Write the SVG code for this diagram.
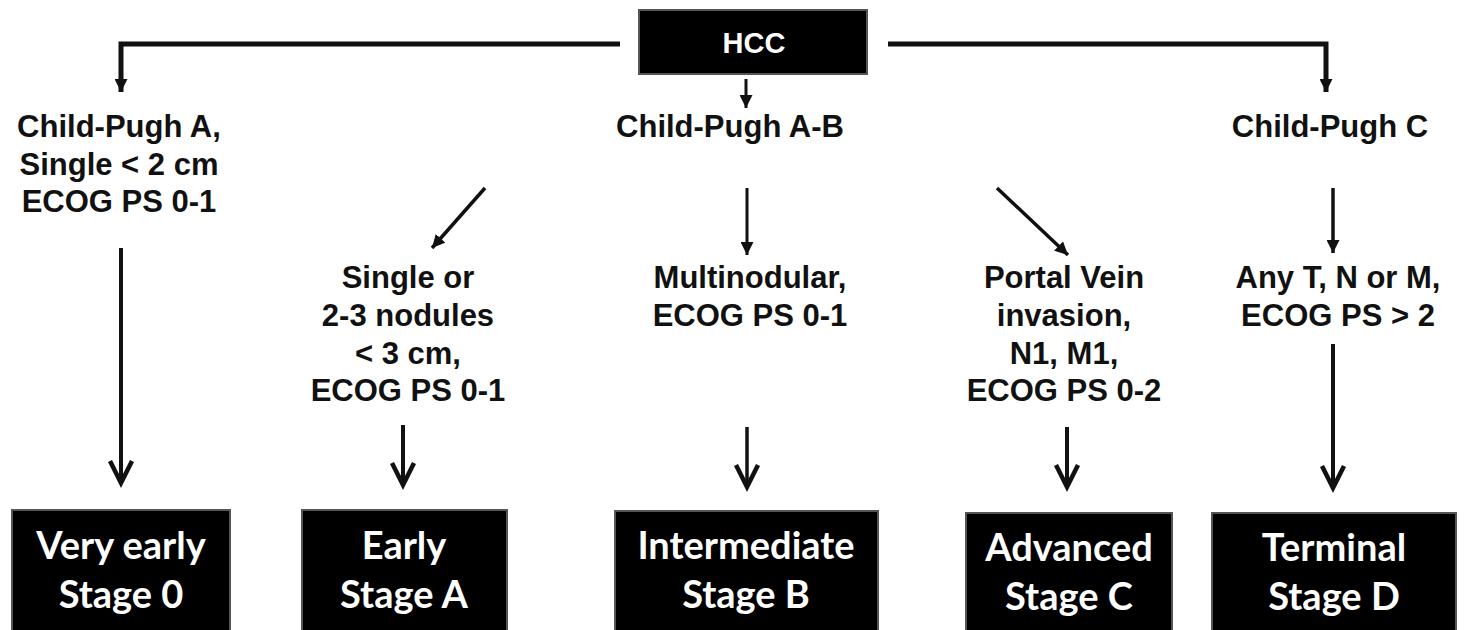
<svg xmlns="http://www.w3.org/2000/svg" width="1465" height="630" viewBox="0 0 1465 630">
<style>
.lbl{font-family:"Liberation Sans",Arial,sans-serif;font-weight:bold;font-size:31px;fill:#111;text-anchor:middle}
.box{fill:#000;stroke:#555;stroke-width:2}
.btxt{font-family:Lato,"Open Sans",sans-serif;font-weight:bold;font-size:38px;fill:#fff;text-anchor:middle}
.hcc{font-family:"Liberation Sans",Arial,sans-serif;font-weight:bold;font-size:29px;fill:#fff;text-anchor:middle}
.ln{fill:none;stroke:#111;stroke-linecap:butt}
.big{fill:none;stroke:#111;stroke-width:4.5;stroke-linejoin:miter}
</style>
<defs>
<marker id="tri" viewBox="0 0 10 10" refX="10" refY="5" markerWidth="13" markerHeight="13" markerUnits="userSpaceOnUse" orient="auto">
<path d="M0,0 L10,5 L0,10 z" fill="#111"/>
</marker>
</defs>
<rect width="1465" height="630" fill="#fff"/>
<g id="connectors">
<polyline class="ln" stroke-width="5" points="620,44 121,44 121,92" marker-end="url(#tri)"/>
<polyline class="ln" stroke-width="5" points="888,44 1326,44 1326,92" marker-end="url(#tri)"/>
<line class="ln" stroke-width="3" x1="746" y1="79" x2="746" y2="108" marker-end="url(#tri)"/>
<line class="ln" stroke-width="3.5" x1="485" y1="188" x2="432" y2="248" marker-end="url(#tri)"/>
<line class="ln" stroke-width="3" x1="747" y1="188" x2="747" y2="255" marker-end="url(#tri)"/>
<line class="ln" stroke-width="3.5" x1="997" y1="188" x2="1068" y2="255" marker-end="url(#tri)"/>
<line class="ln" stroke-width="3.5" x1="1333" y1="188" x2="1333" y2="253" marker-end="url(#tri)"/>
<line class="ln" stroke-width="4" x1="121" y1="248" x2="121" y2="482"/>
<polyline class="big" points="110,461 121,483 132,461"/>
<line class="ln" stroke-width="4" x1="403" y1="425" x2="403" y2="484"/>
<polyline class="big" points="392,463 403,485 414,463"/>
<line class="ln" stroke-width="3.5" x1="747" y1="427" x2="747" y2="486"/>
<polyline class="big" points="736,465 747,487 758,465"/>
<line class="ln" stroke-width="4" x1="1067" y1="427" x2="1067" y2="486"/>
<polyline class="big" points="1056,465 1067,487 1078,465"/>
<line class="ln" stroke-width="4" x1="1333" y1="344" x2="1333" y2="487"/>
<polyline class="big" points="1322,466 1333,488 1344,466"/>
</g>
<g id="hcc"><rect class="box" x="639" y="10" width="228" height="64"/><text class="hcc" x="754" y="53">HCC</text></g>
<g id="cp-a"><text class="lbl" x="119" y="137">Child-Pugh A,</text><text class="lbl" x="119" y="175">Single &lt; 2 cm</text><text class="lbl" x="119" y="212">ECOG PS 0-1</text></g>
<g id="cp-ab"><text class="lbl" x="730" y="137">Child-Pugh A-B</text></g>
<g id="cp-c"><text class="lbl" x="1330" y="137">Child-Pugh C</text></g>
<g id="crit-a"><text class="lbl" x="408" y="288">Single or</text><text class="lbl" x="408" y="326">2-3 nodules</text><text class="lbl" x="408" y="364">&lt; 3 cm,</text><text class="lbl" x="408" y="401">ECOG PS 0-1</text></g>
<g id="crit-b"><text class="lbl" x="750" y="288">Multinodular,</text><text class="lbl" x="750" y="326">ECOG PS 0-1</text></g>
<g id="crit-c"><text class="lbl" x="1064" y="288">Portal Vein</text><text class="lbl" x="1064" y="326">invasion,</text><text class="lbl" x="1064" y="364">N1, M1,</text><text class="lbl" x="1064" y="401">ECOG PS 0-2</text></g>
<g id="crit-d"><text class="lbl" x="1338" y="288">Any T, N or M,</text><text class="lbl" x="1338" y="326">ECOG PS &gt; 2</text></g>
<g id="stage0"><rect class="box" x="12" y="510" width="218" height="122"/><text class="btxt" x="121" y="559">Very early</text><text class="btxt" x="121" y="608">Stage 0</text></g>
<g id="stageA"><rect class="box" x="302" y="510" width="205" height="122"/><text class="btxt" x="404" y="559">Early</text><text class="btxt" x="404" y="608">Stage A</text></g>
<g id="stageB"><rect class="box" x="615" y="511" width="263" height="121"/><text class="btxt" x="746" y="559">Intermediate</text><text class="btxt" x="746" y="608">Stage B</text></g>
<g id="stageC"><rect class="box" x="966" y="513" width="206" height="119"/><text class="btxt" x="1069" y="561">Advanced</text><text class="btxt" x="1069" y="610">Stage C</text></g>
<g id="stageD"><rect class="box" x="1212" y="513" width="244" height="119"/><text class="btxt" x="1334" y="561">Terminal</text><text class="btxt" x="1334" y="610">Stage D</text></g>
</svg>
